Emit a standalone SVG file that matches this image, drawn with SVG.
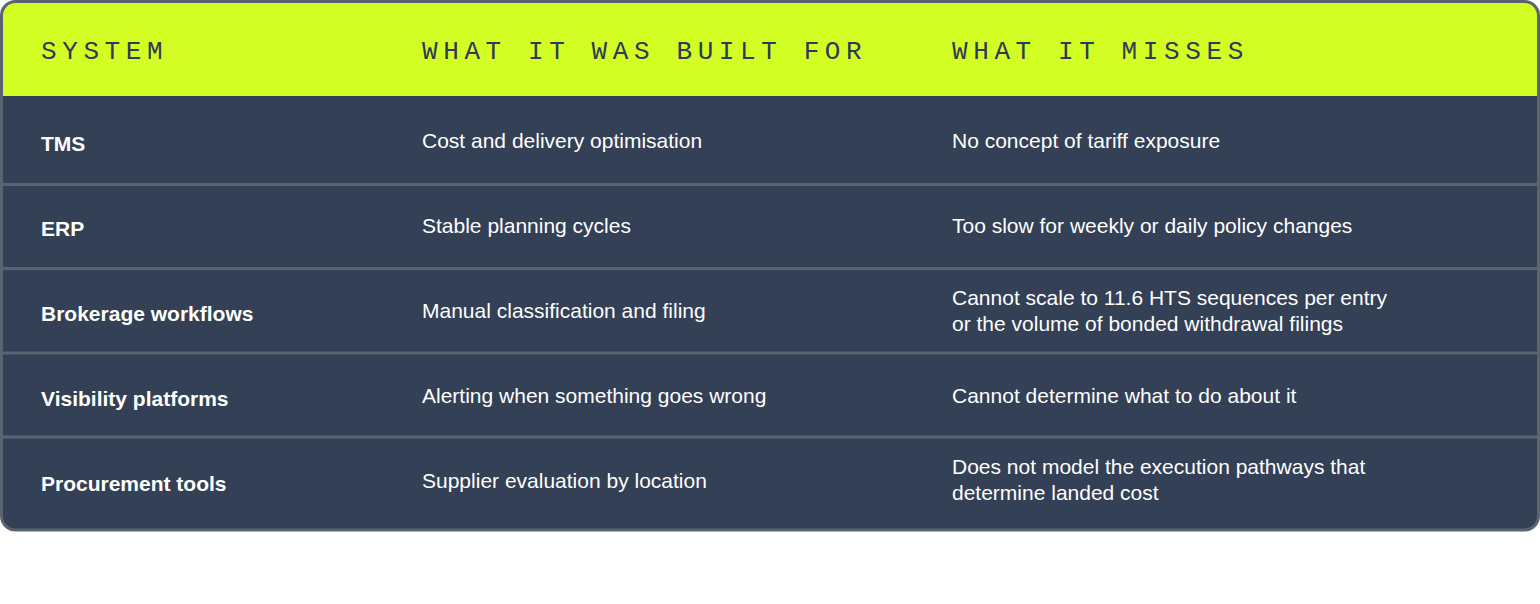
<svg xmlns="http://www.w3.org/2000/svg" width="1540" height="604" viewBox="0 0 1540 604">
<style>
.h{font-family:"Liberation Mono",monospace;font-size:26px;letter-spacing:5.6px;fill:#2f3a55}
.b{font-family:"Liberation Sans",Arial,sans-serif;font-size:21px;fill:#ffffff}
.s{font-family:"Liberation Sans",Arial,sans-serif;font-size:21px;font-weight:bold;fill:#ffffff}
.sep{stroke:#5a6470;stroke-width:3}
</style>
<rect width="1540" height="604" fill="#ffffff"/>
<defs><clipPath id="c"><rect x="1.5" y="1.5" width="1537" height="528.5" rx="14"/></clipPath></defs>
<g clip-path="url(#c)">
<rect x="0" y="0" width="1540" height="531" fill="#334056"/>
<rect x="0" y="0" width="1540" height="96" fill="#d3fe23"/>
</g>
<g id="connectors">
<line class="sep" x1="0" y1="184.5" x2="1540" y2="184.5"/>
<line class="sep" x1="0" y1="268.5" x2="1540" y2="268.5"/>
<line class="sep" x1="0" y1="353" x2="1540" y2="353"/>
<line class="sep" x1="0" y1="437" x2="1540" y2="437"/>
</g>
<rect x="1.5" y="1.5" width="1537" height="528.5" rx="14" fill="none" stroke="#5a6470" stroke-width="3"/>
<g id="header">
<text class="h" x="41" y="59">SYSTEM</text>
<text class="h" x="422" y="59">WHAT IT WAS BUILT FOR</text>
<text class="h" x="952" y="59">WHAT IT MISSES</text>
</g>
<g id="row-tms">
<text class="s" x="41" y="151">TMS</text>
<text class="b" x="422" y="148">Cost and delivery optimisation</text>
<text class="b" x="952" y="148">No concept of tariff exposure</text>
</g>
<g id="row-erp">
<text class="s" x="41" y="236">ERP</text>
<text class="b" x="422" y="233">Stable planning cycles</text>
<text class="b" x="952" y="233">Too slow for weekly or daily policy changes</text>
</g>
<g id="row-brokerage">
<text class="s" x="41" y="321">Brokerage workflows</text>
<text class="b" x="422" y="318">Manual classification and filing</text>
<text class="b" x="952" y="305">Cannot scale to 11.6 HTS sequences per entry</text>
<text class="b" x="952" y="331">or the volume of bonded withdrawal filings</text>
</g>
<g id="row-visibility">
<text class="s" x="41" y="406">Visibility platforms</text>
<text class="b" x="422" y="403">Alerting when something goes wrong</text>
<text class="b" x="952" y="403">Cannot determine what to do about it</text>
</g>
<g id="row-procurement">
<text class="s" x="41" y="491">Procurement tools</text>
<text class="b" x="422" y="488">Supplier evaluation by location</text>
<text class="b" x="952" y="474">Does not model the execution pathways that</text>
<text class="b" x="952" y="500">determine landed cost</text>
</g>
</svg>
